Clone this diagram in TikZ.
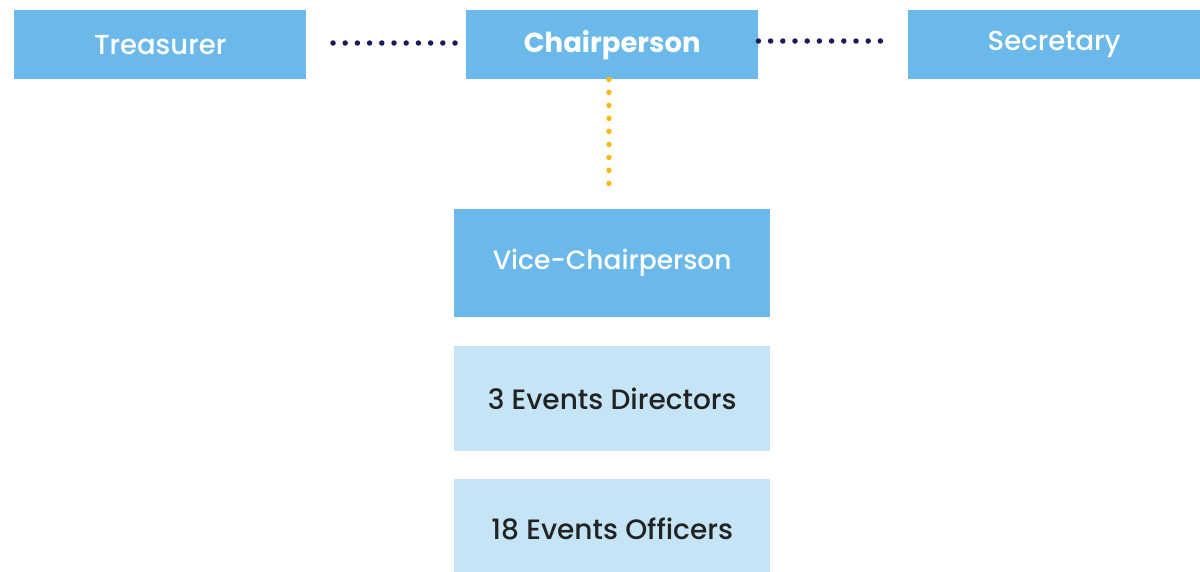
\documentclass[tikz,border=0pt]{standalone}
\usepackage{fontspec}
\setmainfont{Poppins}[UprightFont=* Medium,BoldFont=* Bold]
\definecolor{boxblue}{HTML}{6BB9EA}
\definecolor{lightblue}{HTML}{C5E5F6}
\definecolor{navy}{HTML}{1B1B5C}
\definecolor{gold}{HTML}{FDB913}
\definecolor{darktext}{HTML}{222222}
\begin{document}
\begin{tikzpicture}[x=1pt,y=-1pt,
  topbox/.style={fill=boxblue,draw=none,minimum width=292pt,minimum height=69pt,text=white,font=\fontsize{27.5}{30}\selectfont,inner sep=0pt,anchor=north west},
  vicebox/.style={fill=boxblue,draw=none,minimum width=316pt,minimum height=108pt,text=white,font=\fontsize{26.5}{30}\selectfont,inner sep=0pt,anchor=north west},
  lowbox/.style={fill=lightblue,draw=none,minimum width=316pt,text=darktext,font=\fontsize{28}{30}\selectfont,inner sep=0pt,anchor=north west},
  navydots/.style={draw=navy,line width=5.5pt,line cap=round,dash pattern=on 0pt off 12.2pt},
  golddots/.style={draw=gold,line width=5.5pt,line cap=round,dash pattern=on 0pt off 13pt}
]
\useasboundingbox (0,0) rectangle (1200,571);
\node[topbox] (treas) at (14,10) {Treasurer};
\node[topbox,font=\fontsize{27.5}{30}\selectfont\bfseries] (chair) at (466,10) {Chairperson};
\node[topbox] (sec) at (908,10) {Secretary};
\node[vicebox] (vice) at (454,209) {\raisebox{-3pt}{Vice-Chairperson}};
\node[lowbox,minimum height=105pt] (dir) at (454,346) {3 Events Directors};
\node[lowbox,minimum height=100pt] (off) at (454,479) {\raisebox{2pt}{18 Events Officers}};
\coordinate (lstart) at (333,43);
\coordinate (rend) at (884,41);
\coordinate (vend) at (609,185);
\draw[navydots] (lstart) -- (lstart -| chair.west);
\draw[navydots] (chair.east |- rend) -- (rend);
\draw[golddots] (chair.south -| vend) -- (vend);
\end{tikzpicture}
\end{document}
